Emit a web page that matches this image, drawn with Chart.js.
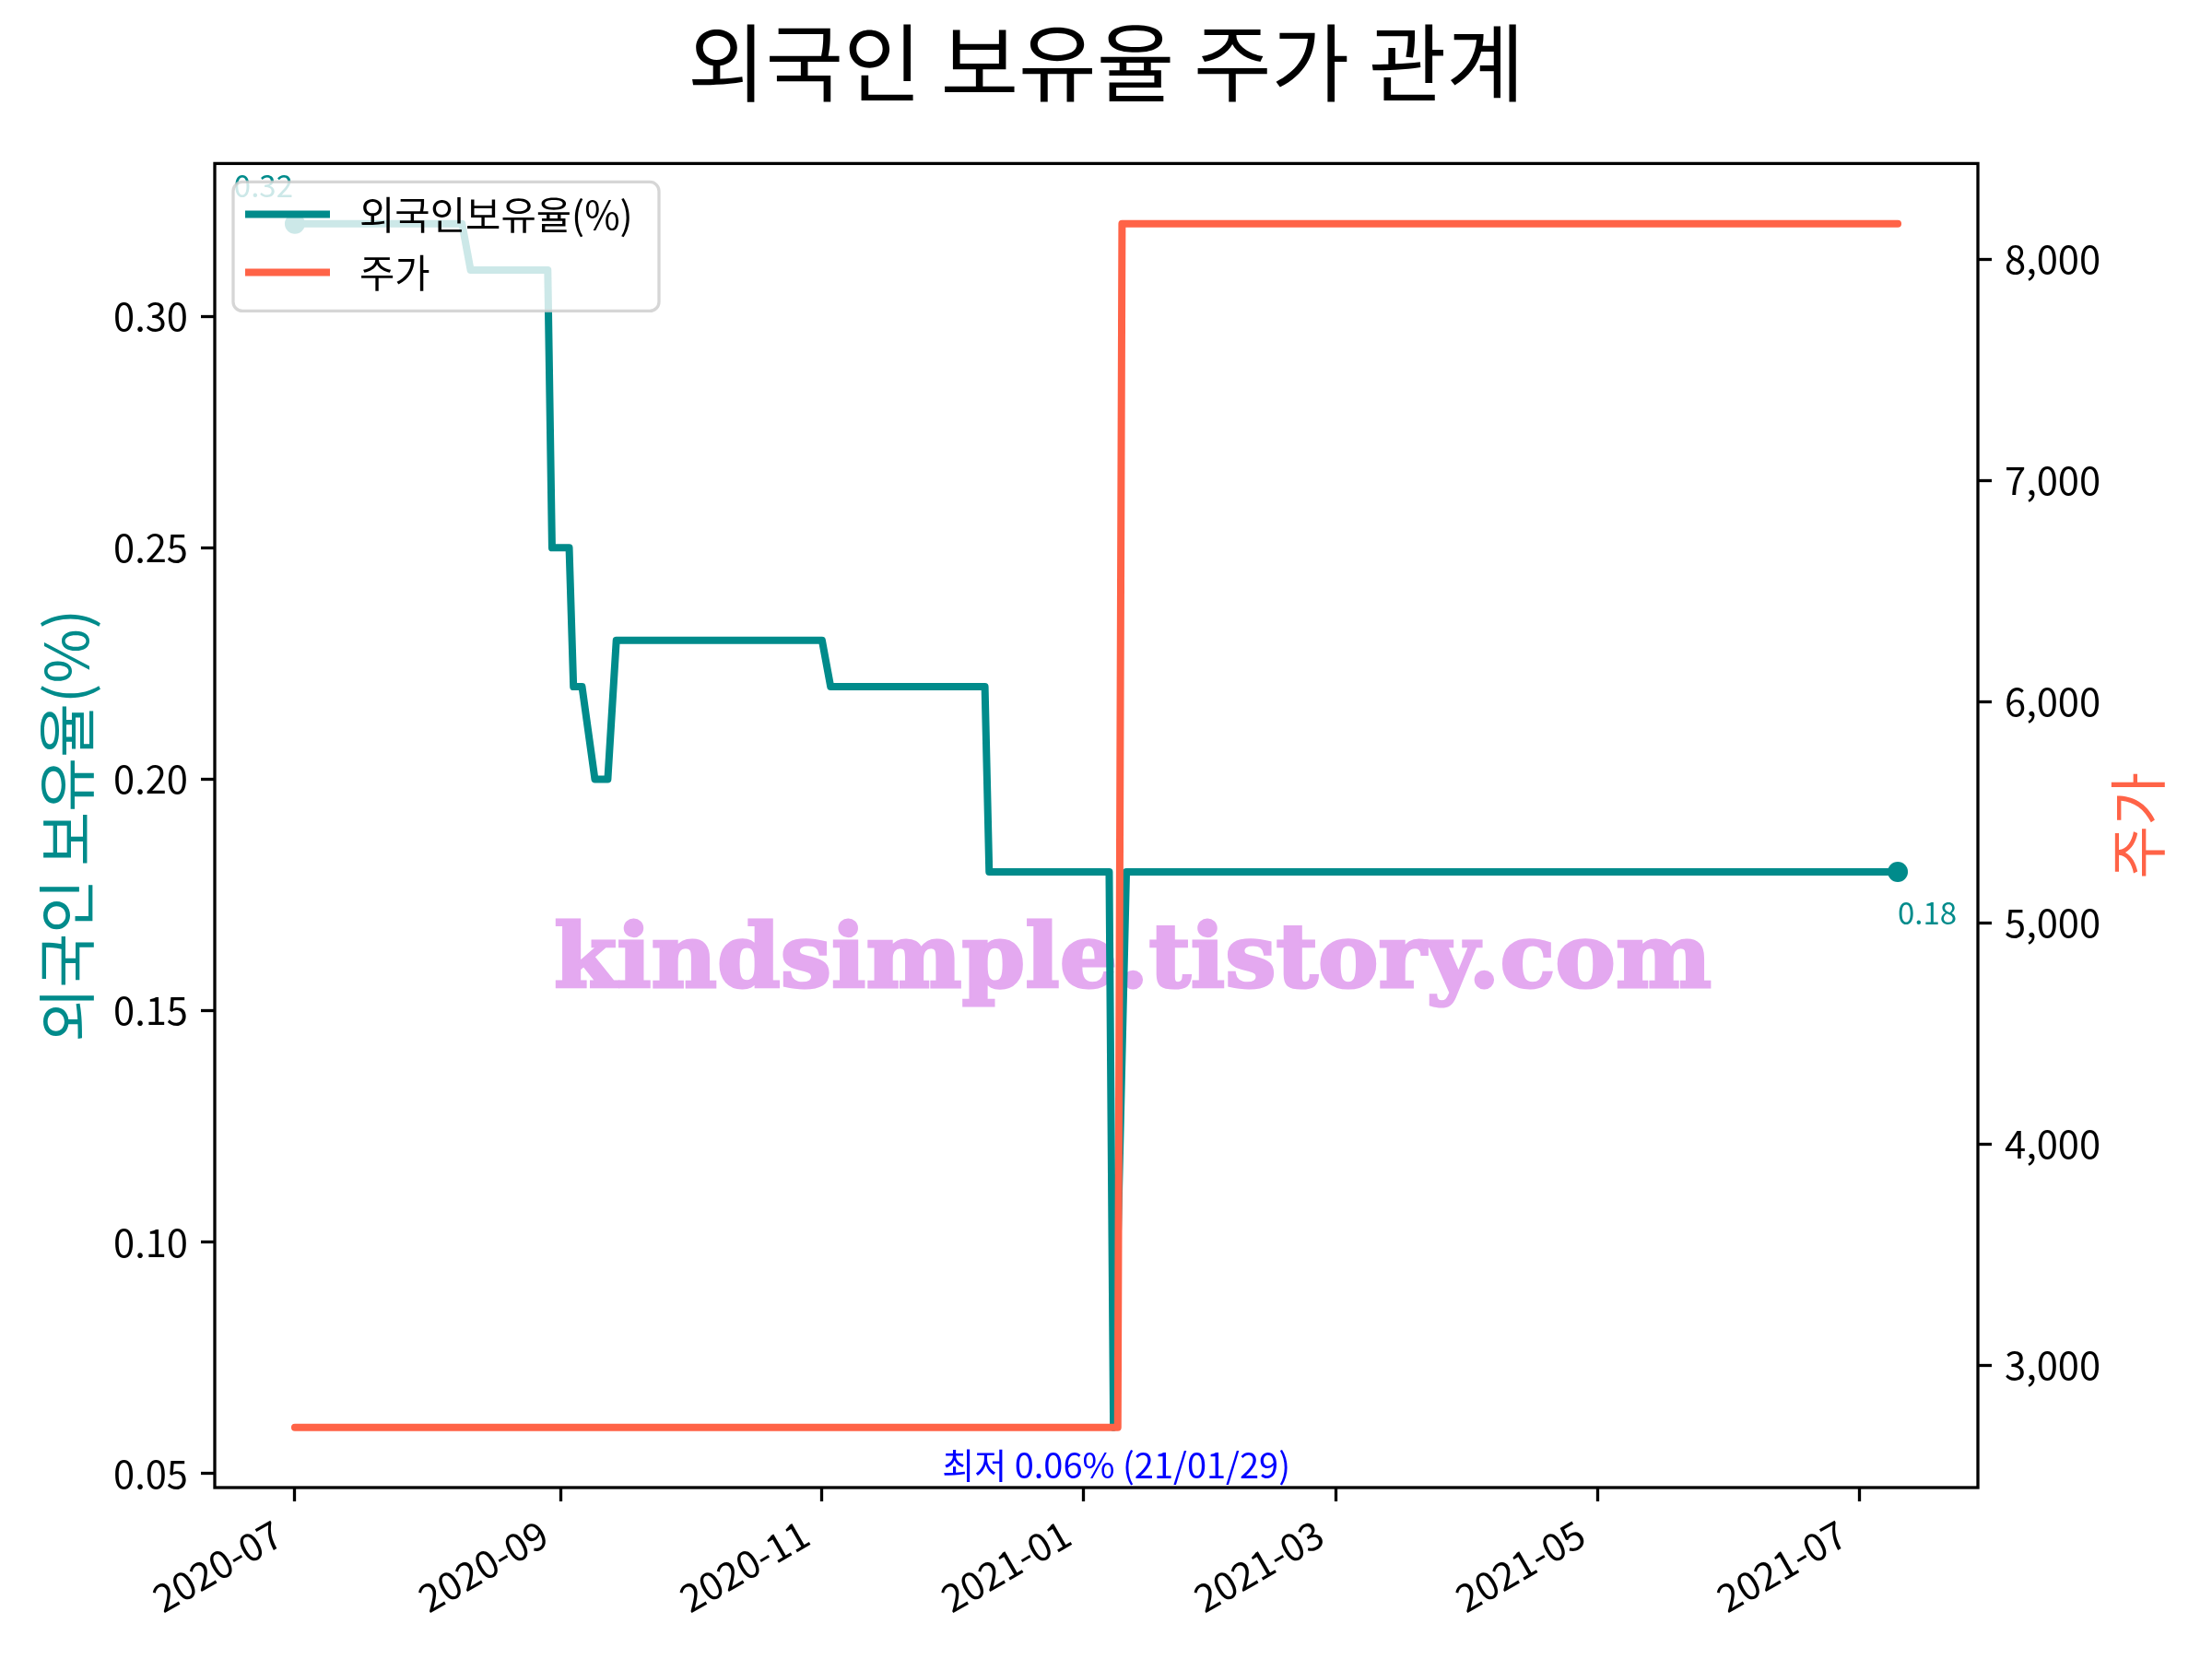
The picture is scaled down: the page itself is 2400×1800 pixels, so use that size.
<!DOCTYPE html>
<html>
<head>
<meta charset="utf-8">
<title>외국인 보유율 주가 관계</title>
<script src="https://cdn.jsdelivr.net/npm/chart.js@4.4.1/dist/chart.umd.min.js"></script>
<style>
  html, body { margin: 0; padding: 0; background: #fff; }
  #wrap { width: 2400px; height: 1800px; }
</style>
</head>
<body>
<div id="wrap"><canvas id="holdingChart" width="2400" height="1800"></canvas></div>
<script>
// 외국인 보유율(%) - 값이 바뀌는 지점들
const holdDates = [
    '2020-07-01', '2020-08-09', '2020-08-11', '2020-08-29', '2020-08-30', '2020-09-03',
    '2020-09-04', '2020-09-06', '2020-09-09', '2020-09-12', '2020-09-14', '2020-11-01',
    '2020-11-03', '2020-12-09', '2020-12-10', '2021-01-07', '2021-01-08', '2021-01-11',
    '2021-07-10'
];
const holdValues = [
    0.32, 0.32, 0.31, 0.31, 0.25, 0.25,
    0.22, 0.22, 0.20, 0.20, 0.23, 0.23,
    0.22, 0.22, 0.18, 0.18, 0.06, 0.18,
    0.18
];

// 주가
const priceDates = ['2020-07-01', '2021-01-09', '2021-01-10', '2021-07-10'];
const priceValues = [2720, 2720, 8160, 8160];

// 축 눈금
const xTickDates = ['2020-07-01', '2020-09-01', '2020-11-01', '2021-01-01', '2021-03-01', '2021-05-01', '2021-07-01'];
const leftTicks = [0.05, 0.10, 0.15, 0.20, 0.25, 0.30];
const rightTicks = [3000, 4000, 5000, 6000, 7000, 8000];

const minLabel = '최저 0.06% (21/01/29)';
const watermark = 'kindsimple.tistory.com';

const TEAL = '#008b8b';
const TOMATO = '#ff6347';
const FONT = '"Noto Sans CJK KR", "Noto Sans", sans-serif';

// matplotlib 처럼 위아래 5% 여백
function padRange(vals) {
    const lo = Math.min(...vals), hi = Math.max(...vals);
    const m = (hi - lo) * 0.05;
    return [lo - m, hi + m];
}

const holdPoints = holdDates.map((d, i) => ({ x: Date.parse(d), y: holdValues[i] }));
const pricePoints = priceDates.map((d, i) => ({ x: Date.parse(d), y: priceValues[i] }));
const xRange = padRange(holdDates.concat(priceDates).map(d => Date.parse(d)));
const leftRange = padRange(holdValues);
const rightRange = padRange(priceValues);

function monthLabel(v) {
    const d = new Date(v);
    const m = d.getUTCMonth() + 1;
    return d.getUTCFullYear() + '-' + (m < 10 ? '0' + m : m);
}

const overlayPlugin = {
    id: 'overlay',
    beforeDatasetsDraw(chart) {
        // 워터마크 (선 아래)
        const ctx = chart.ctx;
        ctx.save();
        ctx.font = 'bold 96px "DejaVu Serif", serif';
        const w = ctx.measureText(watermark).width;
        ctx.translate(1229, 1071);
        ctx.scale(1256 / w, 1);
        ctx.fillStyle = '#e4a9f0';
        ctx.strokeStyle = '#e4a9f0';
        ctx.lineWidth = 3;
        ctx.textAlign = 'center';
        ctx.textBaseline = 'alphabetic';
        ctx.fillText(watermark, 0, 0);
        ctx.strokeText(watermark, 0, 0);
        ctx.restore();
    },
    afterDatasetsDraw(chart) {
        const ctx = chart.ctx;
        const area = chart.chartArea;
        const xs = chart.scales.x, ys = chart.scales.y;

        // 테두리
        ctx.save();
        ctx.strokeStyle = '#000';
        ctx.lineWidth = 3.3;
        ctx.strokeRect(area.left, area.top, area.right - area.left, area.bottom - area.top);

        // 시작/끝 값 표시
        const first = holdPoints[0], last = holdPoints[holdPoints.length - 1];
        ctx.font = '33px ' + FONT;
        ctx.fillStyle = TEAL;
        ctx.textBaseline = 'alphabetic';
        ctx.textAlign = 'right';
        ctx.fillText(first.y.toFixed(2), xs.getPixelForValue(first.x) - 2, ys.getPixelForValue(first.y) - 29);
        ctx.textAlign = 'left';
        ctx.fillText(last.y.toFixed(2), xs.getPixelForValue(last.x), ys.getPixelForValue(last.y) + 57);

        // 최저점
        const minIdx = holdValues.indexOf(Math.min(...holdValues));
        const mp = holdPoints[minIdx];
        ctx.font = '38px ' + FONT;
        ctx.fillStyle = '#0000ff';
        ctx.textAlign = 'center';
        ctx.fillText(minLabel, xs.getPixelForValue(mp.x) + 3, ys.getPixelForValue(mp.y) + 55);
        ctx.restore();
    },
    afterDraw(chart) {
        const ctx = chart.ctx;
        const area = chart.chartArea;

        // 오른쪽 축 제목 (아래에서 위로)
        ctx.save();
        ctx.font = '63px ' + FONT;
        ctx.fillStyle = TOMATO;
        ctx.textAlign = 'center';
        ctx.textBaseline = 'middle';
        ctx.translate(2319, (area.top + area.bottom) / 2);
        ctx.rotate(-Math.PI / 2);
        ctx.fillText('주가', 0, 0);
        ctx.restore();

        // 범례
        const lx = area.left + 20, ly = area.top + 20;
        ctx.save();
        ctx.globalAlpha = 0.8;
        ctx.fillStyle = '#fff';
        ctx.strokeStyle = '#cccccc';
        ctx.lineWidth = 3.3;
        ctx.beginPath();
        ctx.roundRect(lx, ly, 462, 140, 10);
        ctx.fill();
        ctx.stroke();
        ctx.globalAlpha = 1;
        ctx.font = '41.7px ' + FONT;
        ctx.textAlign = 'left';
        ctx.textBaseline = 'middle';
        chart.data.datasets.forEach((ds, i) => {
            const y = ly + 35 + i * 63;
            ctx.strokeStyle = ds.borderColor;
            ctx.lineWidth = 8;
            ctx.beginPath();
            ctx.moveTo(lx + 13, y);
            ctx.lineTo(lx + 105, y);
            ctx.stroke();
            ctx.fillStyle = '#000';
            ctx.fillText(ds.label, lx + 137, y + 1);
        });
        ctx.restore();
    }
};

const tickGrid = {
    display: true,
    drawOnChartArea: false,
    drawTicks: true,
    tickLength: 15,
    tickWidth: 3.3,
    tickColor: '#000'
};

Chart.defaults.font.family = FONT;
Chart.defaults.color = '#000';

new Chart(document.getElementById('holdingChart'), {
    type: 'line',
    data: {
        datasets: [{
            label: '외국인보유율(%)',
            data: holdPoints,
            yAxisID: 'y',
            borderColor: TEAL,
            backgroundColor: TEAL,
            borderWidth: 8,
            borderJoinStyle: 'round',
            borderCapStyle: 'round',
            pointRadius: c => (c.dataIndex === 0 || c.dataIndex === holdPoints.length - 1) ? 11 : 0,
            pointBackgroundColor: TEAL,
            pointBorderWidth: 0,
            tension: 0,
            order: 2
        }, {
            label: '주가',
            data: pricePoints,
            yAxisID: 'y1',
            borderColor: TOMATO,
            backgroundColor: TOMATO,
            borderWidth: 8,
            borderJoinStyle: 'round',
            borderCapStyle: 'round',
            pointRadius: 0,
            tension: 0,
            order: 1
        }]
    },
    options: {
        responsive: false,
        devicePixelRatio: 1,
        animation: false,
        layout: { padding: 0 },
        plugins: {
            legend: { display: false },
            tooltip: { enabled: false },
            title: {
                display: true,
                text: '외국인 보유율 주가 관계',
                color: '#000',
                font: { size: 92, weight: 'normal' },
                padding: { top: 13, bottom: 54 }
            }
        },
        scales: {
            x: {
                type: 'linear',
                position: 'bottom',
                min: xRange[0],
                max: xRange[1],
                afterBuildTicks: s => { s.ticks = xTickDates.map(d => ({ value: Date.parse(d) })); },
                afterFit: s => { s.height = 186; },
                grid: tickGrid,
                border: { display: false },
                ticks: {
                    autoSkip: false,
                    minRotation: 30,
                    maxRotation: 30,
                    padding: 10,
                    labelOffset: -18,
                    font: { size: 41.7 },
                    callback: v => monthLabel(v)
                }
            },
            y: {
                type: 'linear',
                position: 'left',
                min: leftRange[0],
                max: leftRange[1],
                afterBuildTicks: s => { s.ticks = leftTicks.map(v => ({ value: v })); },
                afterFit: s => { s.width = 233; },
                grid: tickGrid,
                border: { display: false },
                ticks: {
                    padding: 14,
                    font: { size: 41.7 },
                    callback: v => v.toFixed(2)
                },
                title: {
                    display: true,
                    text: '외국인 보유율(%)',
                    color: TEAL,
                    font: { size: 64 },
                    padding: { top: 33, bottom: 0 }
                }
            },
            y1: {
                type: 'linear',
                position: 'right',
                min: rightRange[0],
                max: rightRange[1],
                afterBuildTicks: s => { s.ticks = rightTicks.map(v => ({ value: v })); },
                afterFit: s => { s.width = 254; },
                grid: tickGrid,
                border: { display: false },
                ticks: {
                    padding: 14,
                    font: { size: 41.7 },
                    callback: v => v.toLocaleString('en-US')
                }
            }
        }
    },
    plugins: [overlayPlugin]
});
</script>
</body>
</html>
